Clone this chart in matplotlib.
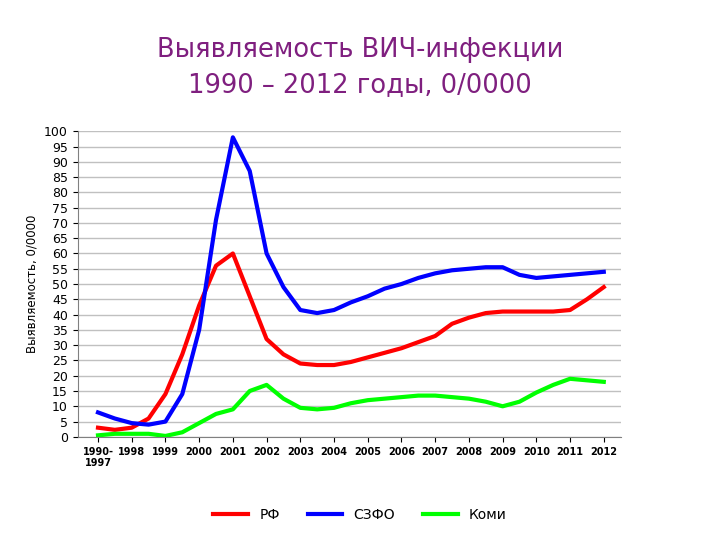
import numpy as np
import matplotlib.pyplot as plt

years = ['1990-\n1997', '1998', '1999', '2000', '2001', '2002', '2003', '2004',
         '2005', '2006', '2007', '2008', '2009', '2010', '2011', '2012']
# values read at every half step between labels
rf = [3, 2.3, 3, 6, 14, 27, 43, 56, 60, 46, 32, 27, 24, 23.5, 23.5, 24.5,
      26, 27.5, 29, 31, 33, 37, 39, 40.5, 41, 41, 41, 41, 41.5, 45, 49]
szfo = [8, 6, 4.5, 4, 5, 14, 35, 71, 98, 87, 60, 49, 41.5, 40.5, 41.5, 44,
        46, 48.5, 50, 52, 53.5, 54.5, 55, 55.5, 55.5, 53, 52, 52.5, 53, 53.5, 54]
komi = [0.5, 1, 1, 1, 0.3, 1.5, 4.5, 7.5, 9, 15, 17, 12.5, 9.5, 9, 9.5, 11,
        12, 12.5, 13, 13.5, 13.5, 13, 12.5, 11.5, 10, 11.5, 14.5, 17, 19, 18.5, 18]

x = np.arange(len(rf)) / 2

fig = plt.figure(figsize=(7.2, 5.4), dpi=100)
ax = fig.add_axes([0.108, 0.191, 0.754, 0.566])
ax.plot(x, rf, color='#ff0000', lw=3, label='РФ', solid_joinstyle='round')
ax.plot(x, szfo, color='#0000ff', lw=3, label='СЗФО', solid_joinstyle='round')
ax.plot(x, komi, color='#00ff00', lw=3, label='Коми', solid_joinstyle='round')

ax.set_ylim(0, 100)
ax.set_yticks(range(0, 101, 5))
ax.set_xlim(-0.6, 15.5)
ax.set_xticks(range(len(years)))
ax.set_xticklabels(years, fontsize=7, fontweight='bold')
ax.tick_params(axis='y', labelsize=9)
ax.grid(axis='y', color='#c0c0c0', lw=1)
ax.set_axisbelow(True)
for s in ['top', 'right']:
    ax.spines[s].set_visible(False)
ax.spines['left'].set_color('#808080')
ax.spines['bottom'].set_color('#808080')
ax.set_ylabel('Выявляемость, 0/0000', fontsize=8.5)

fig.text(0.5, 0.875, 'Выявляемость ВИЧ-инфекции\n1990 – 2012 годы, 0/0000',
         ha='center', va='center', fontsize=18.5, color='#7f1f7f', linespacing=1.45)
fig.legend(loc='lower center', bbox_to_anchor=(0.5, 0.01), ncol=3, frameon=False,
           fontsize=10, handlelength=2.5)

fig.savefig('out.png')
